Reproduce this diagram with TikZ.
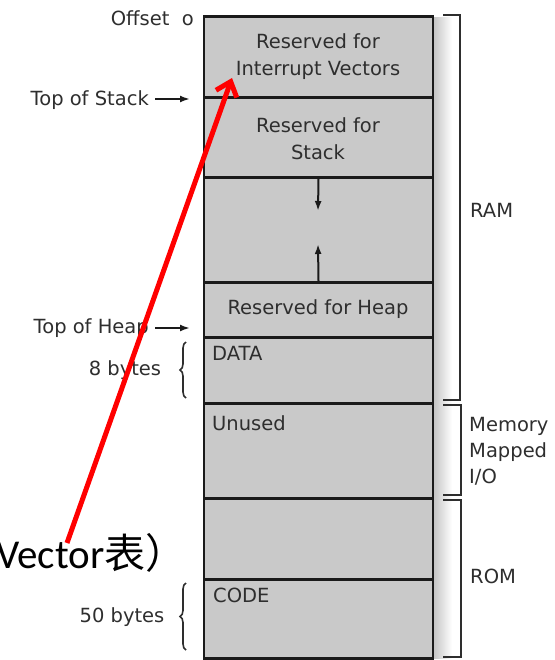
\documentclass[tikz,border=0pt]{standalone}
\usepackage{fontspec}
\setmainfont{DejaVu Sans}
\newfontfamily\latinfont{Carlito}
\newfontfamily\cjk{Noto Sans CJK SC}
\usetikzlibrary{arrows.meta,decorations.pathreplacing}
\definecolor{segfill}{HTML}{C9C9C9}
\definecolor{ink}{HTML}{2E2E2E}
\definecolor{edge}{HTML}{1A1A1A}
\tikzset{
  seg/.style={draw=edge, line width=2.8pt, fill=segfill, minimum width=229pt, inner sep=0pt, anchor=north},
  lbl/.style={text=ink, font=\fontsize{19.5}{27}\selectfont, inner sep=0pt, align=center},
  pointer/.style={draw=edge, line width=2pt, -{Latex[length=10pt,width=7pt]}},
  bracket/.style={draw=ink, line width=1.8pt},
  brace/.style={draw=ink, line width=1.6pt, decorate, decoration={brace, amplitude=6pt, mirror}}
}
\begin{document}
\begin{tikzpicture}[x=1pt, y=-1pt]
\useasboundingbox (0,0) rectangle (554,660);

% soft shadow along the right side of the memory column
\shade[left color=gray!45, right color=white] (434,18) rectangle (452,658);

% memory segments, top to bottom
\node[seg, minimum height=81pt]  (iv)    at (318.5,15)  {};
\node[seg, minimum height=80pt]  (stack) at (318.5,96)  {};
\node[seg, minimum height=105pt] (free)  at (318.5,176) {};
\node[seg, minimum height=55pt]  (heap)  at (318.5,281) {};
\node[seg, minimum height=66pt]  (data)  at (318.5,336) {};
\node[seg, minimum height=95pt]  (unused) at (318.5,402) {};
\node[seg, minimum height=81pt]  (rom)   at (318.5,497) {};
\node[seg, minimum height=79pt]  (code)  at (318.5,578) {};

% segment labels
\node[lbl] (ivt) at (318,57) {Reserved for\\Interrupt Vectors};
\node[lbl] (stt) at (318,139) {Reserved for\\Stack};
\node[lbl] (hpt) at (318,309) {Reserved for Heap};
\node[lbl, anchor=north west] (dtt) at (212,346) {DATA};
\node[lbl, anchor=north west] (unt) at (212,415) {Unused};
\node[lbl, anchor=north west] (cdt) at (213,588) {CODE};

% growth arrows of stack and heap
\coordinate (sdown) at (318,211);
\coordinate (hup)   at (318,244);
\draw[pointer] (stack.south) -- (sdown);
\draw[pointer] (heap.north) -- (hup);

% left-hand annotations
\node[lbl, anchor=east] (off) at (194,18) {Offset\ \ o};
\node[lbl, anchor=east] (tos) at (149,100) {Top of Stack};
\node[lbl, anchor=east] (toh) at (149,328) {Top of Heap};
\coordinate (tosend) at (190,99);
\coordinate (tohend) at (190,328);
\draw[pointer] (tos.east) ++(6,-1) -- (tosend);
\draw[pointer] (toh.east) ++(6,0) -- (tohend);

\node[lbl] (eight) at (125,370) {8 bytes};
\node[lbl] (fifty) at (122,617) {50 bytes};
\coordinate (db1) at (186,342);
\coordinate (db2) at (186,398);
\coordinate (cb1) at (186,583);
\coordinate (cb2) at (186,650);
\draw[brace] (db1) -- (db2);
\draw[brace] (cb1) -- (cb2);

% right-hand range brackets
\draw[bracket] (443,15) -- (460,15) -- (460,400) -- (443,400);
\draw[bracket] (443,405) -- (461,405) -- (461,495) -- (443,495);
\draw[bracket] (443,500) -- (461,500) -- (461,657) -- (443,657);
\node[lbl, anchor=west] (ram) at (470,210) {RAM};
\node[lbl, anchor=west, align=left, font=\fontsize{19.5}{26}\selectfont] (mmio) at (469,451) {Memory\\Mapped\\I/O};
\node[lbl, anchor=west] (romt) at (470,576) {ROM};

% callout text and red pointer
\node[anchor=base west, inner sep=0pt, font=\fontsize{41}{45}\selectfont] (vec) at (-4,568) {\latinfont Vector\cjk 表）};
\coordinate (vtip) at (232,78);
\draw[red, line width=5pt, -{Straight Barb[length=13pt,width=22pt,line width=5pt]}] (67,543) -- (vtip);
\end{tikzpicture}
\end{document}
